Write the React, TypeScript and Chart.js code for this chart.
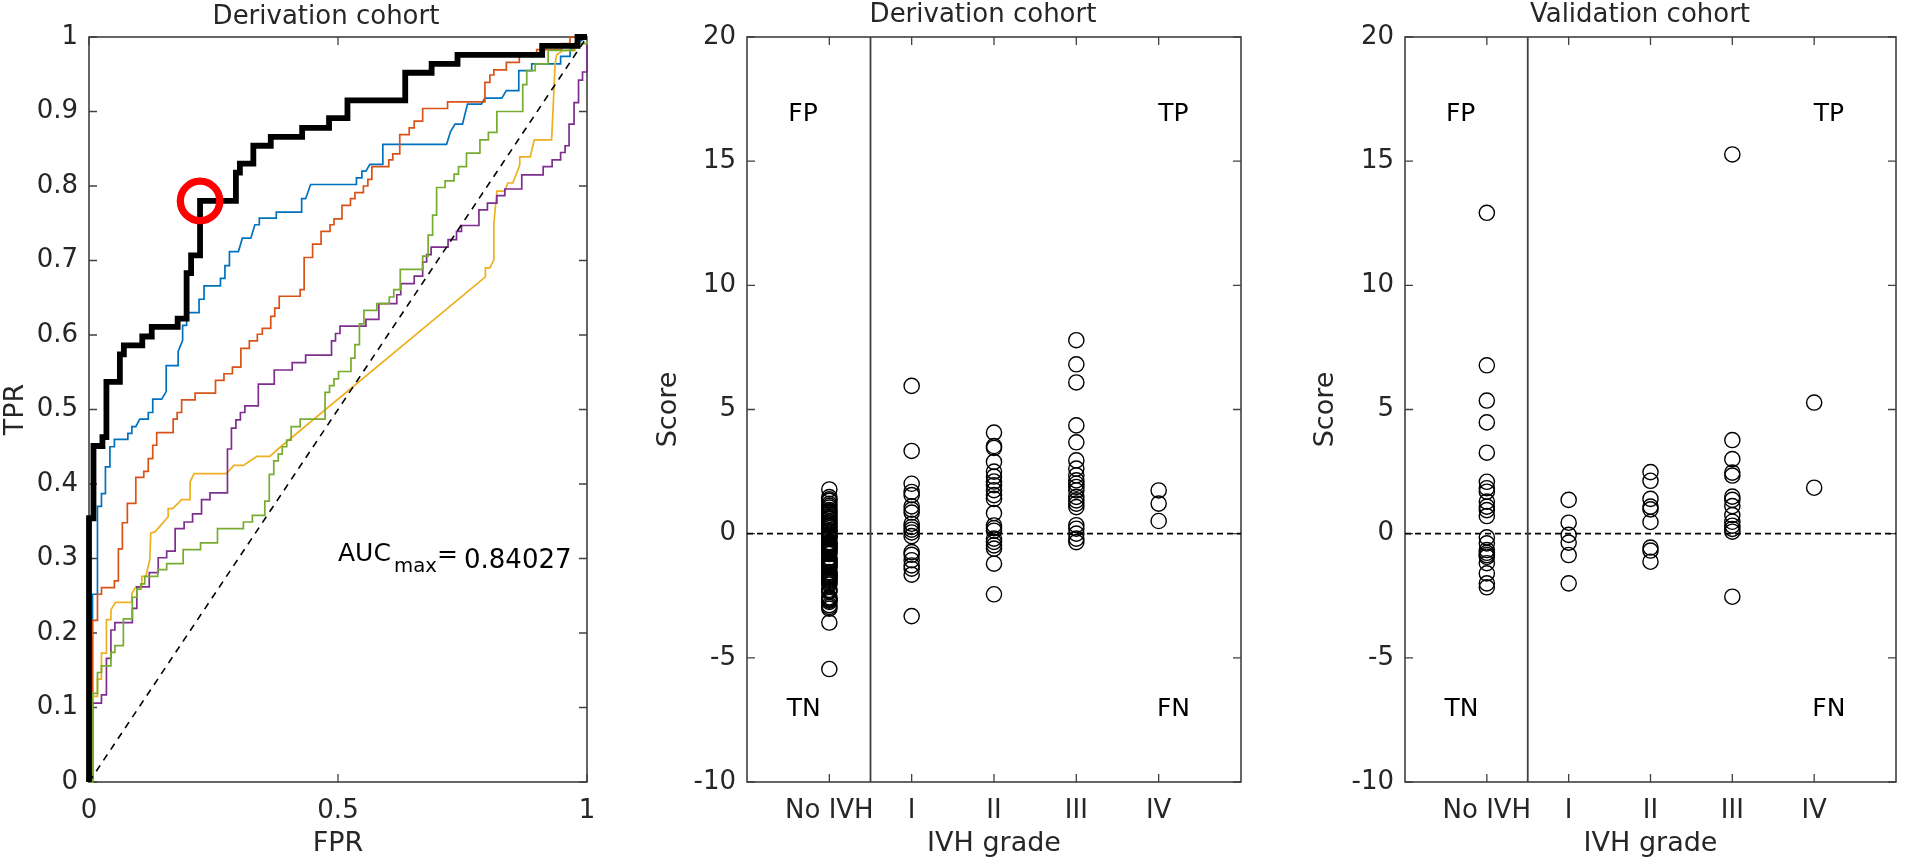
import React, { useEffect, useRef } from 'react';
import { Chart, registerables } from 'chart.js';

Chart.register(...registerables);

type Pair = [number, number];

const FONT = '"DejaVu Sans"';
const INK = '#262626';
const AXIS = '#404040';

// ROC curves as [FPR, TPR]
const blackRoc: Pair[] = [[0,0],[0,.354],[.009,.451],[.027,.463],[.035,.537],[.062,.574],[.07,.586],[.107,.598],[.126,.611],[.178,.622],[.196,.683],[.205,.707],[.223,.78],[.295,.818],[.303,.83],[.33,.854],[.365,.866],[.428,.878],[.482,.891],[.519,.915],[.635,.952],[.688,.964],[.74,.976],[.91,.988],[.981,1],[1,1]];
const blueRoc: Pair[] = [[.007,0],[.007,.252],[.017,.252],[.017,.37],[.025,.37],[.025,.387],[.033,.387],[.033,.423],[.042,.423],[.042,.45],[.051,.45],[.051,.46],[.078,.46],[.078,.468],[.086,.468],[.086,.477],[.094,.477],[.102,.487],[.119,.487],[.119,.496],[.128,.496],[.128,.514],[.146,.514],[.155,.524],[.155,.559],[.179,.559],[.179,.578],[.188,.593],[.188,.613],[.196,.613],[.196,.63],[.221,.63],[.221,.648],[.231,.648],[.231,.666],[.264,.666],[.264,.676],[.273,.676],[.273,.693],[.282,.693],[.282,.712],[.3,.712],[.308,.73],[.325,.73],[.333,.748],[.342,.748],[.342,.757],[.376,.757],[.376,.765],[.427,.765],[.427,.783],[.435,.783],[.445,.802],[.537,.802],[.537,.811],[.548,.811],[.548,.82],[.556,.82],[.564,.829],[.59,.829],[.59,.856],[.718,.856],[.726,.873],[.735,.883],[.75,.883],[.76,.91],[.788,.91],[.795,.918],[.829,.918],[.838,.928],[.863,.928],[.863,.955],[.889,.955],[.889,.964],[.947,.964],[.947,.974],[.966,.974],[.966,.983],[.979,.991],[1,1]];
const orangeRoc: Pair[] = [[0,0],[.007,.217],[.017,.252],[.025,.261],[.051,.27],[.059,.313],[.067,.348],[.077,.374],[.094,.409],[.11,.417],[.119,.434],[.128,.452],[.136,.469],[.169,.487],[.177,.496],[.186,.513],[.213,.522],[.254,.539],[.271,.548],[.288,.557],[.305,.582],[.322,.592],[.338,.601],[.348,.609],[.365,.625],[.373,.636],[.382,.652],[.424,.661],[.432,.704],[.449,.722],[.466,.739],[.484,.748],[.492,.756],[.508,.774],[.525,.783],[.534,.791],[.551,.8],[.56,.809],[.568,.826],[.602,.835],[.61,.843],[.624,.869],[.643,.878],[.653,.887],[.67,.904],[.72,.913],[.795,.939],[.805,.949],[.813,.956],[.838,.966],[.864,.976],[.899,.983],[.949,.991],[.966,1],[1,1]];
const yellowRoc: Pair[] = [[.007,0],[.007,.115],[.017,.115],[.017,.138],[.025,.138],[.025,.173],[.035,.173],[.035,.218],[.044,.218],[.044,.231],[.053,.241],[.086,.241],[.086,.253],[.094,.262],[.106,.262],[.106,.276],[.114,.276],[.122,.298],[.124,.334],[.133,.336],[.159,.356],[.159,.367],[.168,.367],[.186,.379],[.203,.379],[.203,.403],[.211,.414],[.276,.414],[.291,.425],[.31,.425],[.337,.437],[.363,.437],[.383,.449],[.796,.678],[.796,.69],[.805,.69],[.813,.701],[.813,.75],[.819,.793],[.835,.793],[.841,.804],[.851,.804],[.865,.828],[.865,.839],[.886,.839],[.894,.862],[.929,.862],[.936,.964],[.939,.976],[.952,.982],[.976,.982],[.976,.991],[.986,1],[1,1]];
const purpleRoc: Pair[] = [[0,0],[.007,.106],[.025,.117],[.035,.166],[.044,.204],[.052,.214],[.087,.233],[.096,.262],[.121,.281],[.139,.301],[.156,.31],[.173,.34],[.191,.349],[.208,.36],[.226,.379],[.243,.388],[.278,.447],[.286,.475],[.295,.486],[.304,.496],[.313,.505],[.34,.534],[.372,.553],[.408,.563],[.435,.573],[.487,.592],[.495,.602],[.504,.612],[.556,.621],[.582,.642],[.618,.654],[.626,.669],[.653,.679],[.67,.698],[.678,.708],[.687,.718],[.721,.728],[.738,.739],[.748,.747],[.783,.768],[.8,.777],[.819,.787],[.835,.796],[.869,.815],[.912,.826],[.93,.835],[.947,.845],[.956,.854],[.964,.883],[.974,.912],[.983,.942],[.991,.953],[1,1]];
const greenRoc: Pair[] = [[0,0],[.007,.119],[.017,.147],[.025,.156],[.044,.174],[.052,.183],[.069,.219],[.087,.248],[.096,.259],[.104,.266],[.112,.276],[.138,.285],[.156,.293],[.189,.312],[.224,.321],[.258,.34],[.31,.349],[.328,.358],[.353,.377],[.362,.413],[.371,.431],[.38,.44],[.388,.45],[.397,.459],[.406,.477],[.424,.487],[.474,.523],[.483,.532],[.492,.541],[.501,.551],[.526,.569],[.534,.587],[.543,.615],[.552,.633],[.578,.642],[.603,.651],[.612,.661],[.625,.688],[.67,.706],[.681,.734],[.69,.761],[.698,.798],[.715,.807],[.733,.816],[.742,.826],[.758,.844],[.785,.862],[.802,.872],[.819,.9],[.871,.936],[.879,.955],[.896,.964],[.922,.982],[.973,.991],[1,1]];
const chancePoints: Pair[] = [[0,0],[1,1]];
const operatingPoint: Pair[] = [[.223,.78]];

const rocTicks = [0,.1,.2,.3,.4,.5,.6,.7,.8,.9,1];
const fprTicks = [0,.5,1];

// scores per IVH grade
const gradeLabels = ['No IVH','I','II','III','IV'];
const scoreTicks = [-10,-5,0,5,10,15,20];

const derivNone = [1.78,1.47,1.38,1.32,1.2,1.12,1.05,.95,.9,.84,.76,.68,.62,.58,.5,.45,.4,.34,.28,.22,.14,.1,.06,-.04,-.09,-.12,-.17,-.2,-.34,-.38,-.42,-.46,-.5,-.54,-.58,-.62,-.66,-.71,-.76,-.82,-.96,-1,-1.04,-1.08,-1.12,-1.16,-1.2,-1.25,-1.3,-1.34,-1.38,-1.55,-1.58,-1.62,-1.66,-1.7,-1.74,-1.78,-1.82,-1.86,-1.9,-1.94,-2,-2.05,-2.26,-2.3,-2.34,-2.56,-2.6,-2.62,-2.66,-2.7,-2.75,-2.88,-2.95,-3.02,-3.58,-5.45];
const derivI = [5.95,3.33,2.01,1.68,1.55,1.1,.97,.85,.4,.27,.16,.05,-.1,-.74,-.85,-1.07,-1.28,-1.41,-1.65,-3.32];
const derivII = [4.07,3.53,3.45,2.89,2.5,2.3,2.1,1.95,1.75,1.55,1.4,.83,.33,.22,.12,-.2,-.33,-.47,-.6,-1.21,-2.44];
const derivIII = [7.79,6.82,6.09,4.36,3.68,2.95,2.62,2.35,2.15,2.01,1.88,1.74,1.48,1.34,1.21,1.07,.34,.2,0,-.2,-.34];
const derivIV = [1.74,1.21,.51];

const validNone = [12.92,6.78,5.36,4.48,3.26,2.09,1.83,1.69,1.29,1.09,.95,.71,-.15,-.39,-.66,-.77,-.86,-.93,-1.19,-1.6,-2,-2.16];
const validI = [1.36,.44,-.05,-.36,-.86,-2];
const validII = [2.48,2.13,1.4,1.09,.98,.47,-.56,-.68,-1.13];
const validIII = [15.27,3.77,3,2.46,2.34,1.49,1.36,1.11,.75,.48,.32,.19,.08,-2.54];
const validIV = [5.28,1.85];

const quadrantNotes: { text: string; x: number; y: number }[] = [
  { text: 'FP', x: .68, y: 16.95 },
  { text: 'TP', x: 5.18, y: 16.95 },
  { text: 'TN', x: .69, y: -7 },
  { text: 'FN', x: 5.18, y: -7 },
];

const toPoints = (pairs: Pair[]) => pairs.map(([x, y]) => ({ x, y }));

const rocLine = (data: Pair[], color: string, width = 1.7, stepped: any = 'before') => ({
  data: toPoints(data),
  showLine: true,
  borderColor: color,
  borderWidth: width,
  pointRadius: 0,
  stepped,
  clip: false,
  borderJoinStyle: 'miter',
});

const rocDatasets = [
  { data: toPoints(operatingPoint), showLine: false, pointRadius: 19.7, borderWidth: 7.3, borderColor: '#ff0000', backgroundColor: 'transparent', clip: false },
  rocLine(blackRoc, '#000000', 5.8),
  { ...rocLine(chancePoints, '#000000', 1.6, false), borderDash: [7, 6] },
  rocLine(greenRoc, '#77ac30'),
  rocLine(purpleRoc, '#7e2f8e'),
  rocLine(yellowRoc, '#edb120', 1.7, false),
  rocLine(orangeRoc, '#d95319'),
  rocLine(blueRoc, '#0072bd', 1.7, false),
];

const scoreDatasets = (groups: number[][]) => [
  { data: toPoints([[1.5, -10], [1.5, 20]]), showLine: true, borderColor: AXIS, borderWidth: 1.8, pointRadius: 0 },
  { data: toPoints([[0, 0], [6, 0]]), showLine: true, borderColor: '#000000', borderWidth: 1.6, borderDash: [6, 4], pointRadius: 0 },
  ...groups.map((values, g) => ({
    data: values.map(y => ({ x: g + 1, y })),
    showLine: false,
    pointRadius: 7.6,
    borderWidth: 1.4,
    borderColor: '#000000',
    backgroundColor: 'transparent',
  })),
];

// box with MATLAB style inward ticks on all four sides
const boxPlugin = {
  id: 'box',
  beforeDatasetsDraw(chart: any, _a: any, opts: any) {
    const { ctx, chartArea: { left, right, top, bottom }, scales: { x, y } } = chart;
    ctx.save();
    ctx.strokeStyle = AXIS;
    ctx.lineWidth = 1.6;
    ctx.strokeRect(left, top, right - left, bottom - top);
    ctx.lineWidth = 1.3;
    ctx.beginPath();
    opts.xTicks.forEach((v: number) => {
      const px = x.getPixelForValue(v);
      ctx.moveTo(px, bottom); ctx.lineTo(px, bottom - 8);
      ctx.moveTo(px, top); ctx.lineTo(px, top + 8);
    });
    opts.yTicks.forEach((v: number) => {
      const py = y.getPixelForValue(v);
      ctx.moveTo(left, py); ctx.lineTo(left + 8, py);
      ctx.moveTo(right, py); ctx.lineTo(right - 8, py);
    });
    ctx.stroke();
    ctx.restore();
  },
  afterDraw(chart: any, _a: any, opts: any) {
    const { ctx, scales: { x, y } } = chart;
    ctx.save();
    ctx.font = `26px ${FONT}`;
    ctx.textAlign = 'center';
    ctx.textBaseline = 'alphabetic';
    ctx.fillStyle = INK;
    ctx.fillText(opts.title, opts.titleX, opts.titleBase);
    ctx.font = `25px ${FONT}`;
    ctx.fillStyle = '#000000';
    (opts.notes || []).forEach((n: any) => {
      ctx.fillText(n.text, x.getPixelForValue(n.x), y.getPixelForValue(n.y) + 8);
    });
    if (opts.auc) {
      const ax = x.getPixelForValue(opts.auc.x);
      const ay = y.getPixelForValue(opts.auc.y);
      ctx.textAlign = 'left';
      ctx.fillText('AUC', ax, ay);
      ctx.fillText('=', ax + 99, ay + 1);
      ctx.font = `26px ${FONT}`;
      ctx.fillText(opts.auc.value, ax + 126, ay + 7);
      ctx.font = `19.7px ${FONT}`;
      ctx.fillText('max', ax + 56, ay + 11);
    }
    ctx.restore();
  },
};

type PanelProps = {
  left: number;
  width: number;
  axisWidth: number;
  rightPad: number;
  yTitle: string;
  yTitlePad: number;
  xTitle: string;
  datasets: any[];
  xRange: [number, number];
  yRange: [number, number];
  xTicks: number[];
  yTicks: number[];
  xLabel: (v: number) => string;
  box: any;
};

const Panel: React.FC<PanelProps> = p => {
  const canvasRef = useRef<HTMLCanvasElement>(null);

  useEffect(() => {
    if (!canvasRef.current) return;
    const tickFont = { family: FONT, size: 26 };
    const chart = new Chart(canvasRef.current, {
      type: 'scatter',
      data: { datasets: p.datasets },
      plugins: [boxPlugin],
      options: {
        responsive: false,
        animation: false,
        layout: { padding: { top: 37, right: p.rightPad, left: 0, bottom: 0 } },
        scales: {
          x: {
            type: 'linear',
            min: p.xRange[0],
            max: p.xRange[1],
            grid: { display: false, drawTicks: false },
            border: { display: false },
            afterBuildTicks: (s: any) => { s.ticks = p.xTicks.map(value => ({ value })); },
            afterFit: (s: any) => { s.height = 78; },
            ticks: { font: tickFont, color: INK, padding: 14, maxRotation: 0, autoSkip: false, callback: (v: any) => p.xLabel(v) },
            title: { display: true, text: p.xTitle, color: INK, font: { family: FONT, size: 27 }, padding: 0 },
          },
          y: {
            type: 'linear',
            min: p.yRange[0],
            max: p.yRange[1],
            grid: { display: false, drawTicks: false },
            border: { display: false },
            afterBuildTicks: (s: any) => { s.ticks = p.yTicks.map(value => ({ value })); },
            afterFit: (s: any) => { s.width = p.axisWidth; },
            ticks: { font: tickFont, color: INK, padding: 11, autoSkip: false, callback: (v: any) => String(+Number(v).toFixed(1)) },
            title: { display: true, text: p.yTitle, color: INK, font: { family: FONT, size: 27 }, padding: { top: p.yTitlePad, bottom: 0 } },
          },
        },
        plugins: {
          legend: { display: false },
          tooltip: { enabled: false },
          box: { ...p.box, xTicks: p.xTicks, yTicks: p.yTicks },
        },
      } as any,
    });
    return () => chart.destroy();
  }, []);

  return (
    <canvas
      ref={canvasRef}
      width={p.width}
      height={860}
      style={{ position: 'absolute', left: p.left, top: 0, width: p.width, height: 860 }}
    />
  );
};

const gradeTickLabel = (v: number) => gradeLabels[v - 1] ?? '';
const gradeTicks = gradeLabels.map((_, i) => i + 1);

export default function App() {
  return (
    <div style={{ position: 'absolute', left: 0, top: 0, width: 1905, height: 860, background: '#fff', overflow: 'hidden' }}>
      <Panel
        left={0} width={620} axisWidth={89} rightPad={33}
        yTitle="TPR" yTitlePad={0} xTitle="FPR"
        datasets={rocDatasets}
        xRange={[0, 1]} yRange={[0, 1]}
        xTicks={fprTicks} yTicks={rocTicks}
        xLabel={v => String(v)}
        box={{ title: 'Derivation cohort', titleX: 326, titleBase: 24, auc: { x: .5, y: .296, value: '0.84027' } }}
      />
      <Panel
        left={650} width={600} axisWidth={97} rightPad={6}
        yTitle="Score" yTitlePad={2.5} xTitle="IVH grade"
        datasets={scoreDatasets([derivNone, derivI, derivII, derivIII, derivIV])}
        xRange={[0, 6]} yRange={[-10, 20]}
        xTicks={gradeTicks} yTicks={scoreTicks}
        xLabel={gradeTickLabel}
        box={{ title: 'Derivation cohort', titleX: 333, titleBase: 22, notes: quadrantNotes }}
      />
      <Panel
        left={1310} width={595} axisWidth={95} rightPad={3}
        yTitle="Score" yTitlePad={0} xTitle="IVH grade"
        datasets={scoreDatasets([validNone, validI, validII, validIII, validIV])}
        xRange={[0, 6]} yRange={[-10, 20]}
        xTicks={gradeTicks} yTicks={scoreTicks}
        xLabel={gradeTickLabel}
        box={{ title: 'Validation cohort', titleX: 330, titleBase: 22, notes: quadrantNotes }}
      />
    </div>
  );
}
